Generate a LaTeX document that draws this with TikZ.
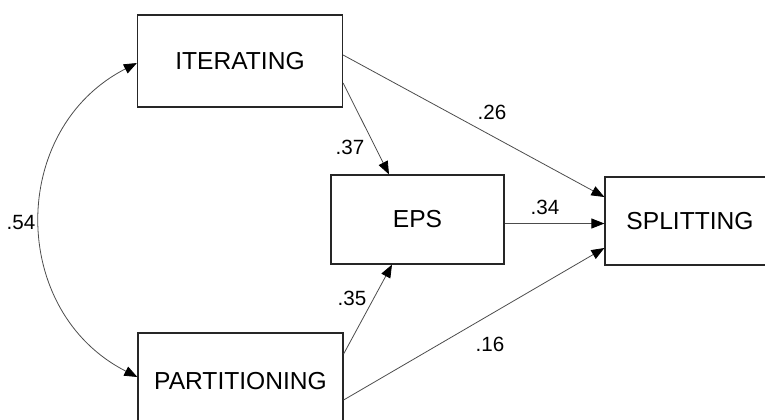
\documentclass[tikz,border=0pt]{standalone}
\usepackage{fontspec}
\setmainfont{Liberation Sans}
\usepackage{tikz}
\usetikzlibrary{arrows.meta}

\tikzset{
  varbox/.style={draw=black!85, line width=0.6pt, inner sep=0pt, font=\fontsize{12.3}{14}\selectfont},
  path/.style={-{Triangle[length=6.5pt,width=5pt,color=black]}, line width=0.4pt, draw=black!70},
  coef/.style={font=\fontsize{10.3}{12}\selectfont, inner sep=0pt}
}

\begin{document}
\begin{tikzpicture}[x=0.5pt, y=-0.5pt]

\useasboundingbox (0,0) rectangle (765,419);

% --- VARIABLES ---
\node[varbox, minimum width=102.5pt, minimum height=46pt] (it) at (240,61) {ITERATING};
\node[varbox, minimum width=86.5pt, minimum height=44.5pt] (eps) at (417.5,219.5) {EPS};
\node[varbox, minimum width=85pt, minimum height=44pt] (spl) at (690,221) {SPLITTING};
\node[varbox, minimum width=102.5pt, minimum height=48pt] (part) at (240.5,381) {PARTITIONING};

% --- PATHS ---
\draw[path] ([yshift=-11pt]it.east) -- ([xshift=-14.25pt]eps.north);
\draw[path] ([yshift=3pt]it.east) -- ([yshift=12pt]spl.west);
\draw[path] ([yshift=-2pt]eps.east) -- ([yshift=-2pt]eps.east -| spl.west);
\draw[path] ([yshift=13.5pt]part.east) -- ([xshift=-12.75pt]eps.south);
\draw[path] ([yshift=-9.5pt]part.east) -- ([yshift=-13.5pt]spl.west);

% correlation
\draw[path, {Triangle[length=6.5pt,width=5pt,color=black]}-{Triangle[length=6.5pt,width=5pt,color=black]}]
  ([yshift=-1pt]it.west) to[bend right=63, looseness=1.18] ([yshift=2pt]part.west);

% --- COEFFICIENTS ---
\node[coef] (c26) at (492,112) {.26};
\node[coef] (c37) at (350,147) {.37};
\node[coef] (c34) at (545,207) {.34};
\node[coef] (c54) at (21,223) {.54};
\node[coef] (c35) at (352,298) {.35};
\node[coef] (c16) at (490,344) {.16};

\end{tikzpicture}
\end{document}
